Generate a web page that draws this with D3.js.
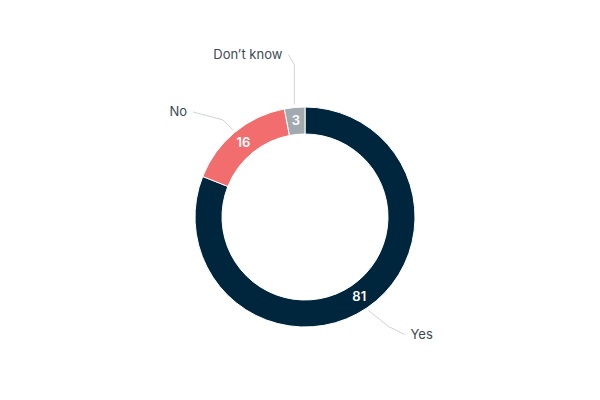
<!DOCTYPE html>
<html><head><meta charset="utf-8">
<script src="https://cdn.jsdelivr.net/npm/d3@7"></script>
<style>body{margin:0;background:#fff}text{font-family:Inter,"Noto Sans",sans-serif}</style>
</head><body>
<svg id="c" width="600" height="400"></svg>
<script>
const categories=["Yes","No","Don\u2019t know"];
const values=[81,16,3];
const colors=["#00263e","#f26d6d","#a2aab0"];
const svg=d3.select("#c");
const cx=305,cy=217,ro=110,ri=83;
const g=svg.append("g").attr("transform",`translate(${cx},${cy})`);
const pie=d3.pie().sort(null).value(d=>d)(values);
const arc=d3.arc().innerRadius(ri).outerRadius(ro);
g.selectAll("path").data(pie).join("path").attr("d",arc)
 .attr("fill",(d,i)=>colors[i]).attr("stroke","#fff").attr("stroke-width",1);
const mid=d3.arc().innerRadius((ri+ro)/2).outerRadius((ri+ro)/2);
g.selectAll("text.v").data(pie).join("text").attr("class","v")
 .attr("transform",d=>`translate(${mid.centroid(d)})`)
 .attr("text-anchor","middle").attr("dy","0.35em")
 .attr("fill","#fff").attr("font-size",13).attr("font-weight",600)
 .text(d=>d.data);
// label connectors
const lab=[
 {t:0,pts:null},{},{}
];
const outA=d3.arc().innerRadius(ro+2).outerRadius(ro+2);
pie.forEach((d,i)=>{
  const a=(d.startAngle+d.endAngle)/2;
  const p0=[Math.sin(a)*(ro+3),-Math.cos(a)*(ro+3)];
  let p1,p2,anchor,tx;
  if(i===0){p1=[p0[0]+20,p0[1]+16];p2=[p1[0]+16,p1[1]+8];}
  else if(i===1){p1=[p0[0]-10,p0[1]-10];p2=[p1[0]-30,p1[1]-8];}
  else{p1=[p0[0],p0[1]-40];p2=[p1[0]-6,p1[1]-10];}
  g.append("polyline").attr("points",[p0,p1,p2].map(p=>p.join(",")).join(" "))
   .attr("fill","none").attr("stroke","#cfd3d6").attr("stroke-width",1);
  const right=p2[0]>p1[0];
  g.append("text").attr("x",p2[0]+(right?6:-6)).attr("y",p2[1]).attr("dy","0.35em")
   .attr("text-anchor",right?"start":"end").attr("fill","#3d4a55").attr("font-size",13)
   .text(categories[i]);
});
</script>
</body></html>
